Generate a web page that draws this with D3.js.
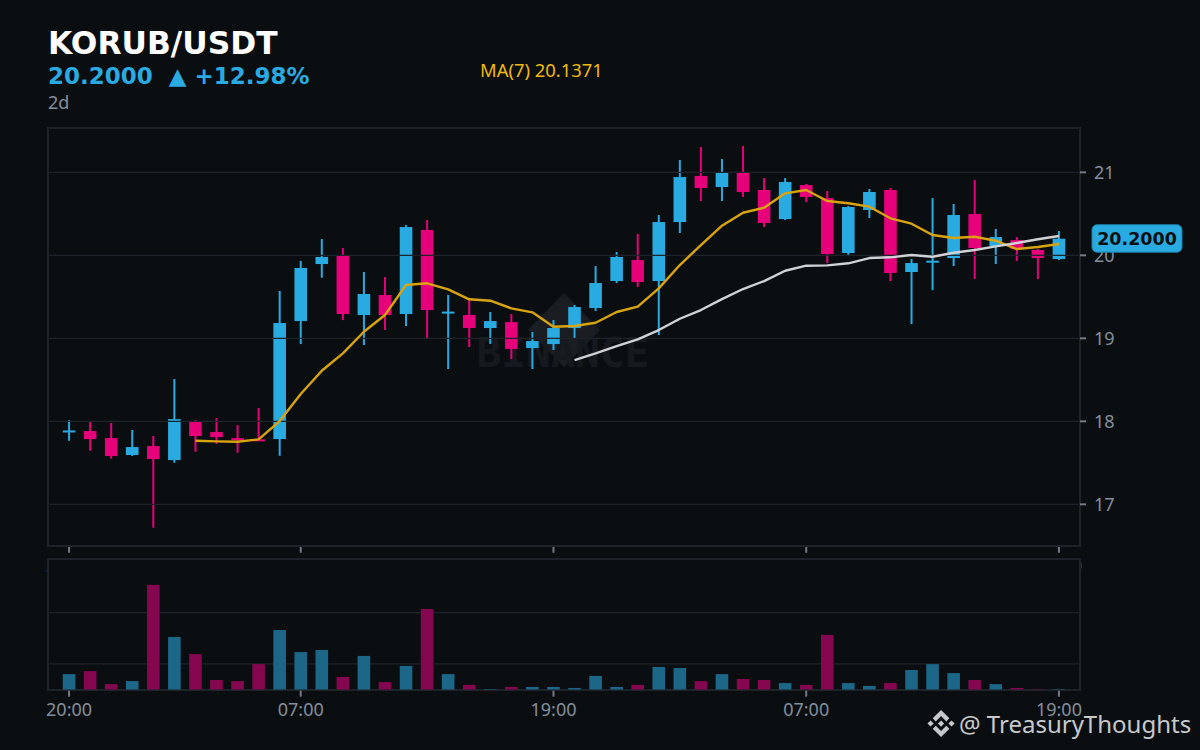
<!DOCTYPE html>
<html>
<head>
<meta charset="utf-8">
<script src="https://cdn.jsdelivr.net/npm/d3@7"></script>
<style>
  html, body { margin: 0; padding: 0; background: #0b0e11; }
  svg { display: block; font-family: "DejaVu Sans", sans-serif; }
</style>
</head>
<body>
<svg width="1200" height="750"></svg>
<script>
// Hour labels on the time axis
const tickIndex = [0, 11, 23, 35, 47];
const tickLabels = ["20:00", "07:00", "19:00", "07:00", "19:00"];
const priceTicks = [17, 18, 19, 20, 21];
const volumeTicks = [100, 300];

// Candles, hourly
const opens = [17.88, 17.883, 17.798, 17.594, 17.702, 17.533, 17.991, 17.871, 17.798, 17.783, 17.786, 19.208, 19.895, 19.992, 19.281, 19.522, 19.293, 20.305, 19.305, 19.281, 19.124, 19.196, 18.883, 18.931, 19.124, 19.365, 19.690, 19.943, 19.690, 20.401, 20.956, 20.823, 20.992, 20.787, 20.437, 20.847, 20.690, 20.028, 20.546, 20.787, 19.799, 19.925, 19.967, 20.498, 20.112, 20.184, 20.064, 19.955];
const highs = [18.015, 17.991, 17.979, 17.895, 17.823, 18.509, 18.015, 18.039, 17.955, 18.160, 19.570, 19.931, 20.196, 20.088, 19.799, 19.739, 20.365, 20.425, 19.522, 19.461, 19.317, 19.293, 19.076, 19.220, 19.401, 19.871, 20.040, 20.257, 20.486, 21.148, 21.305, 21.160, 21.317, 20.931, 20.931, 20.859, 20.775, 20.594, 20.799, 20.811, 19.955, 20.690, 20.618, 20.907, 20.317, 20.220, 20.076, 20.293];
const lows = [17.766, 17.645, 17.549, 17.582, 16.718, 17.501, 17.633, 17.730, 17.621, 17.771, 17.585, 18.931, 19.730, 19.220, 18.919, 19.100, 19.148, 19.003, 18.630, 18.895, 18.931, 18.750, 18.630, 18.859, 19.003, 19.329, 19.666, 19.618, 19.040, 20.269, 20.654, 20.654, 20.703, 20.341, 20.425, 20.642, 19.907, 20.004, 20.449, 19.690, 19.172, 19.582, 19.871, 19.714, 19.895, 19.931, 19.714, 19.943];
const closes = [17.89, 17.786, 17.582, 17.690, 17.545, 18.027, 17.823, 17.810, 17.785, 17.775, 19.184, 19.847, 19.980, 19.293, 19.534, 19.281, 20.341, 19.341, 19.322, 19.124, 19.208, 18.871, 18.967, 19.124, 19.377, 19.666, 19.980, 19.678, 20.401, 20.943, 20.811, 20.992, 20.763, 20.389, 20.883, 20.703, 20.016, 20.582, 20.763, 19.787, 19.907, 19.935, 20.486, 20.088, 20.220, 20.076, 19.967, 20.2];

// Moving averages, null until enough candles
const ma7 = [null, null, null, null, null, null, 17.766, 17.759, 17.754, 17.783, 18.003, 18.329, 18.609, 18.819, 19.079, 19.281, 19.642, 19.663, 19.590, 19.470, 19.453, 19.361, 19.313, 19.140, 19.148, 19.188, 19.317, 19.381, 19.602, 19.883, 20.124, 20.357, 20.513, 20.574, 20.747, 20.787, 20.654, 20.627, 20.586, 20.446, 20.381, 20.245, 20.208, 20.224, 20.176, 20.076, 20.100, 20.137];
const ma25 = [null, null, null, null, null, null, null, null, null, null, null, null, null, null, null, null, null, null, null, null, null, null, null, null, 18.738, 18.819, 18.907, 18.988, 19.100, 19.236, 19.341, 19.473, 19.594, 19.690, 19.814, 19.875, 19.879, 19.904, 19.967, 19.976, 20.004, 19.983, 20.031, 20.064, 20.108, 20.148, 20.193, 20.233];

// Volume in thousands
const volumes = [60, 72, 21, 33, 408, 205, 138, 37, 33, 99, 232, 146, 154, 49, 131, 29, 92, 314, 60, 18, 2, 10, 10, 10, 6, 53, 10, 18, 88, 84, 33, 60, 41, 37, 25, 18, 213, 25, 14, 25, 76, 99, 64, 37, 21, 6, 1.5, 1.5];

const blue = "#29abe2";
const pink = "#e6007a";
const gridColor = "#1e2329";
const textColor = "#848e9c";
const labelFont = "'Noto Sans'";

const svg = d3.select("svg");

const x = d3.scaleLinear().domain([-1, 48]).range([48, 1080]);
const y = d3.scaleLinear().domain([16.498, 21.534]).range([546, 128]);
const yVol = d3.scaleLinear().domain([0, 509]).range([689.5, 559]);
const bodyWidth = 12.6;

const isUp = i => closes[i] >= opens[i];
const candleIdx = d3.range(closes.length);

// Background
svg.append("rect").attr("width", 1200).attr("height", 750).attr("fill", "#0b0e11");

// Time axis of the price panel, the volume panel is painted over its labels
function timeAxis(translateY) {
    const g = svg.append("g")
        .attr("transform", `translate(0,${translateY})`)
        .call(d3.axisBottom(x)
            .tickValues(tickIndex)
            .tickFormat((d, i) => tickLabels[i])
            .tickSize(6)
            .tickPadding(7)
            .offset(0));
    g.attr("font-family", labelFont).attr("font-size", 18);
    g.select(".domain").remove();
    g.selectAll("line").attr("stroke", "#757a84").attr("stroke-width", 2);
    g.selectAll("text").attr("fill", textColor);
}
timeAxis(546.7);

// Watermark
const mark = svg.append("g");
mark.append("path")
    .attr("d", "M564,293 L600,330 L564,367 L528,330 Z")
    .attr("fill", "#1a1d22");
mark.append("text")
    .attr("x", 563).attr("y", 367)
    .attr("text-anchor", "middle")
    .attr("font-family", "'DejaVu Sans Mono'")
    .attr("font-weight", "bold")
    .attr("font-size", 41)
    .attr("fill", "#16191e")
    .text("BINANCE");

// Candles
const candles = svg.append("g").selectAll("g")
    .data(candleIdx)
    .join("g")
    .attr("fill", i => isUp(i) ? blue : pink);
candles.append("rect")
    .attr("x", i => x(i) - 1)
    .attr("width", 2)
    .attr("y", i => y(highs[i]))
    .attr("height", i => y(lows[i]) - y(highs[i]));
candles.append("rect")
    .attr("x", i => x(i) - bodyWidth / 2)
    .attr("width", bodyWidth)
    .attr("y", i => y(Math.max(opens[i], closes[i])))
    .attr("height", i => Math.max(2, Math.abs(y(opens[i]) - y(closes[i]))));

// Price grid sits on top of the candles
svg.append("g").selectAll("line")
    .data(priceTicks)
    .join("line")
    .attr("x1", 49).attr("x2", 1079)
    .attr("y1", d => y(d)).attr("y2", d => y(d))
    .attr("stroke", gridColor)
    .attr("stroke-width", 1.2);

// Moving averages
function drawMA(values, color) {
    const line = d3.line()
        .defined(d => d !== null)
        .x((d, i) => x(i))
        .y(d => y(d));
    svg.append("path")
        .attr("d", line(values))
        .attr("fill", "none")
        .attr("stroke", color)
        .attr("stroke-width", 2.4)
        .attr("stroke-linejoin", "round");
}
drawMA(ma7, "#d9a40f");
drawMA(ma25, "#d0d2d6");

// Price panel frame
svg.append("rect")
    .attr("x", 48).attr("y", 128).attr("width", 1032).attr("height", 418)
    .attr("fill", "none")
    .attr("stroke", gridColor)
    .attr("stroke-width", 2);

// Price axis
const priceAxis = svg.append("g")
    .attr("transform", "translate(1080,0)")
    .call(d3.axisRight(y).tickValues(priceTicks).tickSize(6).tickPadding(8).tickFormat(d3.format("d")).offset(0));
priceAxis.attr("font-family", labelFont).attr("font-size", 18);
priceAxis.select(".domain").remove();
priceAxis.selectAll("line").attr("stroke", "#757a84").attr("stroke-width", 2);
priceAxis.selectAll("text").attr("fill", textColor).attr("dy", "0.37em");

// Volume panel
svg.append("rect")
    .attr("x", 48).attr("y", 559).attr("width", 1032).attr("height", 131)
    .attr("fill", "#0b0e11")
    .attr("stroke", gridColor)
    .attr("stroke-width", 2);
svg.append("g").selectAll("line")
    .data(volumeTicks)
    .join("line")
    .attr("x1", 49).attr("x2", 1079)
    .attr("y1", d => yVol(d)).attr("y2", d => yVol(d))
    .attr("stroke", gridColor)
    .attr("stroke-width", 1.2);
svg.append("g").selectAll("rect")
    .data(candleIdx)
    .join("rect")
    .attr("x", i => x(i) - bodyWidth / 2)
    .attr("width", bodyWidth)
    .attr("y", i => yVol(volumes[i]))
    .attr("height", i => yVol(0) - yVol(volumes[i]))
    .attr("fill", i => isUp(i) ? "#1c6688" : "#85074f");
timeAxis(690.7);

// Header text
svg.append("text").attr("x", 48).attr("y", 54)
    .attr("font-size", 31.3).attr("font-weight", "bold").attr("fill", "#ffffff")
    .text("KORUB/USDT");
svg.append("text").attr("x", 48).attr("y", 84)
    .attr("font-size", 23).attr("font-weight", "bold").attr("fill", blue)
    .style("white-space", "pre")
    .text("20.2000  ▲ +12.98%");
svg.append("text").attr("x", 48).attr("y", 109)
    .attr("font-family", labelFont)
    .attr("font-size", 18).attr("fill", textColor)
    .text("2d");
svg.append("text").attr("x", 480).attr("y", 77)
    .attr("font-family", labelFont)
    .attr("font-size", 18.4).attr("fill", "#f0b90b")
    .text("MA(7) 20.1371");

// Last price tag
const lastY = y(closes[closes.length - 1]);
svg.append("rect")
    .attr("x", 1092).attr("y", lastY - 14).attr("width", 90).attr("height", 27.5)
    .attr("rx", 5)
    .attr("fill", blue)
    .attr("stroke", "#1c7fa8");
svg.append("text")
    .attr("x", 1137).attr("y", lastY)
    .attr("dy", "0.35em")
    .attr("text-anchor", "middle")
    .attr("font-size", 17.5).attr("font-weight", "bold").attr("fill", "#0b0e11")
    .text("20.2000");

// Handle at the bottom right
svg.append("path")
    .attr("transform", "translate(927.5,710) scale(0.214)")
    .attr("fill", "#c8c9cc")
    .attr("d", "M38.73 53.2l24.59-24.58 24.6 24.6 14.3-14.31L63.32 0 24.43 38.9l14.3 14.3zM0 63.31l14.3-14.31 14.31 14.31-14.31 14.3zM38.73 73.41l24.59 24.59 24.6-24.6 14.31 14.29-38.9 38.91-38.91-38.88-.02-.02zM98 63.31l14.3-14.31 14.31 14.3-14.31 14.32zM77.83 63.3L63.32 48.78 52.59 59.51l-1.24 1.23-2.54 2.54 14.51 14.5 14.51-14.47z");
svg.append("text")
    .attr("x", 959).attr("y", 733)
    .attr("font-family", labelFont)
    .attr("font-size", 24).attr("fill", "#c8c9cc")
    .text("@ TreasuryThoughts");
</script>
</body>
</html>
